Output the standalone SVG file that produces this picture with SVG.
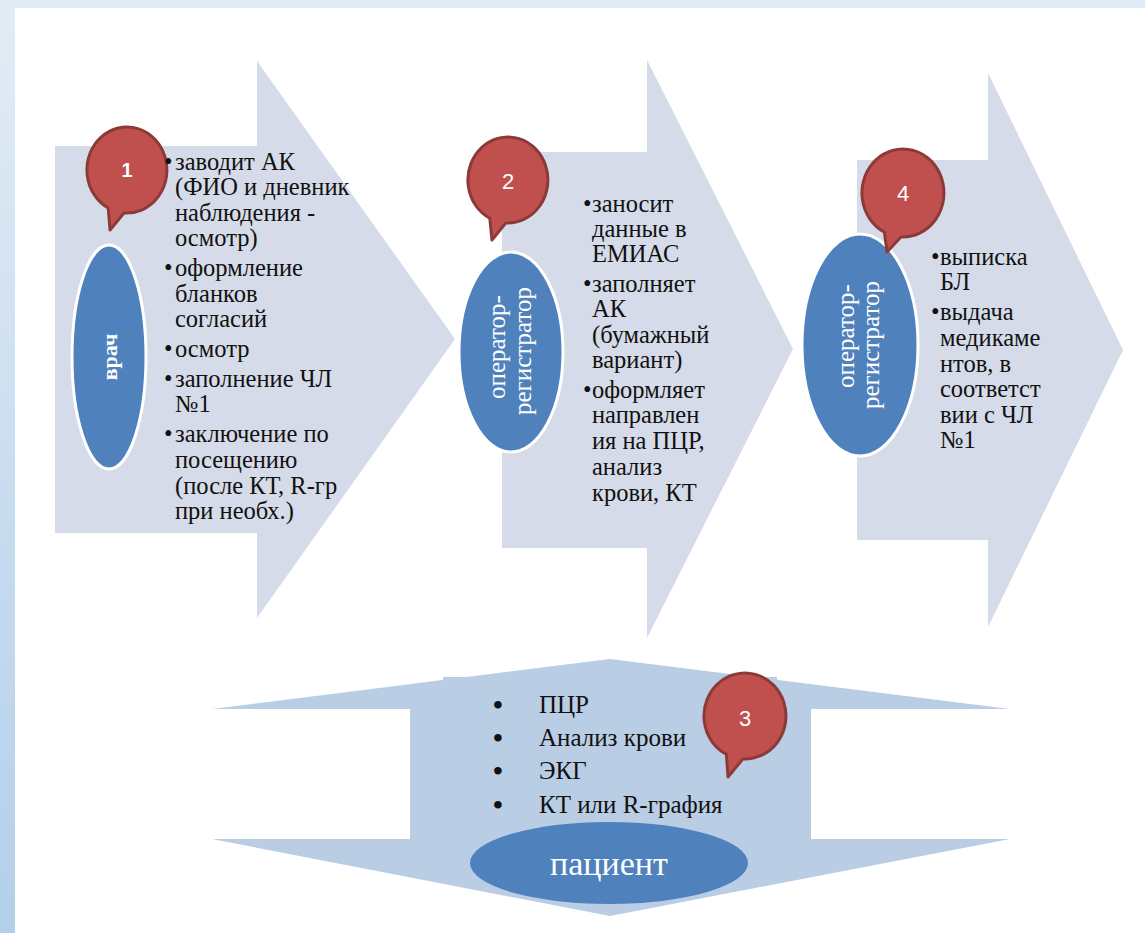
<svg xmlns="http://www.w3.org/2000/svg" width="1145" height="933" viewBox="0 0 1145 933">
  <defs>
    <linearGradient id="bg" x1="0" y1="0" x2="0" y2="1">
      <stop offset="0" stop-color="#e2ecf6"/>
      <stop offset="1" stop-color="#b3cfea"/>
    </linearGradient>
    <style>
      .arrow { fill: #d5dbe8; }
      .barrow { fill: #b9cde5; }
      .role { fill: #4f81bd; stroke: #ffffff; stroke-width: 3; }
      .callout { fill: #c0504d; stroke: #8c3a38; stroke-width: 3; stroke-linejoin: round; }
    </style>
  </defs>

  <rect x="0" y="0" width="1145" height="933" fill="url(#bg)"/>
  <rect x="15" y="8" width="1130" height="925" fill="#ffffff"/>

  <g id="connectors"></g>

  <g id="step1">
    <polygon class="arrow" points="55,146 257,146 257,61 455,339 257,618 257,533 55,533"/>
    <ellipse class="role" cx="109" cy="357" rx="37" ry="112"/>
    <text font-family="Liberation Serif, Times New Roman, serif" font-size="22" font-weight="bold" fill="#ffffff" text-anchor="middle" transform="translate(117,357) rotate(-90)">врач</text>
    <path class="callout" d="M124.2,212.9 A40,43 0 1 0 108.2,208 L110,230 Z"/>
    <text x="127" y="177" font-family="Liberation Sans, Arial, sans-serif" font-size="20" font-weight="bold" fill="#ffffff" text-anchor="middle">1</text>
    <g font-family="Liberation Serif, Times New Roman, serif" font-size="24.5" fill="#111111">
      <text x="164" y="170">•</text><text x="175" y="170">заводит АК</text>
      <text x="175" y="195">(ФИО и дневник</text>
      <text x="175" y="221">наблюдения -</text>
      <text x="175" y="246">осмотр)</text>
      <text x="164" y="276">•</text><text x="175" y="276">оформление</text>
      <text x="175" y="302">бланков</text>
      <text x="175" y="327">согласий</text>
      <text x="164" y="357">•</text><text x="175" y="357">осмотр</text>
      <text x="164" y="387">•</text><text x="175" y="387">заполнение ЧЛ</text>
      <text x="175" y="412">№1</text>
      <text x="164" y="442">•</text><text x="175" y="442">заключение по</text>
      <text x="175" y="468">посещению</text>
      <text x="175" y="494">(после КТ, R-гр</text>
      <text x="175" y="519">при необх.)</text>
    </g>
  </g>

  <g id="step2">
    <polygon class="arrow" points="502,152 647,152 647,60 793,349 647,638 647,548 502,548"/>
    <ellipse class="role" cx="511" cy="352" rx="52" ry="100"/>
    <g font-family="Liberation Serif, Times New Roman, serif" font-size="25" fill="#ffffff" text-anchor="middle">
      <text transform="translate(505,347) rotate(-90)">оператор-</text>
      <text transform="translate(531,351) rotate(-90)">регистратор</text>
    </g>
    <path class="callout" d="M505.9,222.9 A40,43 0 1 0 489.8,218.3 L492,240 Z"/>
    <text x="508" y="189" font-family="Liberation Sans, Arial, sans-serif" font-size="22" fill="#ffffff" text-anchor="middle">2</text>
    <g font-family="Liberation Serif, Times New Roman, serif" font-size="24.5" fill="#111111">
      <text x="583" y="212">•</text><text x="592" y="212">заносит</text>
      <text x="592" y="237">данные в</text>
      <text x="592" y="262">ЕМИАС</text>
      <text x="583" y="292">•</text><text x="592" y="292">заполняет</text>
      <text x="592" y="317">АК</text>
      <text x="592" y="343">(бумажный</text>
      <text x="592" y="368">вариант)</text>
      <text x="583" y="398">•</text><text x="592" y="398">оформляет</text>
      <text x="592" y="423">направлен</text>
      <text x="592" y="449">ия на ПЦР,</text>
      <text x="592" y="475">анализ</text>
      <text x="592" y="501">крови, КТ</text>
    </g>
  </g>

  <g id="step4">
    <polygon class="arrow" points="857,160 988,160 988,73 1123,350 988,627 988,540 857,540"/>
    <ellipse class="role" cx="860" cy="345" rx="58" ry="111"/>
    <g font-family="Liberation Serif, Times New Roman, serif" font-size="25" fill="#ffffff" text-anchor="middle">
      <text transform="translate(854,336) rotate(-90)">оператор-</text>
      <text transform="translate(879,345) rotate(-90)">регистратор</text>
    </g>
    <path class="callout" d="M900.9,236.9 A41,44 0 1 0 884.4,232.2 L887,252 Z"/>
    <text x="903" y="201" font-family="Liberation Sans, Arial, sans-serif" font-size="22" fill="#ffffff" text-anchor="middle">4</text>
    <g font-family="Liberation Serif, Times New Roman, serif" font-size="24.5" fill="#111111">
      <text x="931" y="265">•</text><text x="940" y="265">выписка</text>
      <text x="940" y="290">БЛ</text>
      <text x="931" y="320">•</text><text x="940" y="320">выдача</text>
      <text x="940" y="346">медикаме</text>
      <text x="940" y="372">нтов, в</text>
      <text x="940" y="397">соответст</text>
      <text x="940" y="423">вии с ЧЛ</text>
      <text x="940" y="448">№1</text>
    </g>
  </g>

  <g id="step3">
    <polygon class="barrow" points="610,659 1010,709 811,709 811,839 1010,839 610,916 212,839 410,839 410,709 212,709"/>
    <rect class="barrow" x="443" y="677" width="334" height="85"/>
    <g font-family="Liberation Serif, Times New Roman, serif" font-size="25" fill="#111111">
      <text x="493" y="714" font-size="28" font-weight="bold">•</text><text x="539" y="713">ПЦР</text>
      <text x="493" y="747" font-size="28" font-weight="bold">•</text><text x="539" y="746">Анализ крови</text>
      <text x="493" y="780" font-size="28" font-weight="bold">•</text><text x="539" y="779">ЭКГ</text>
      <text x="493" y="814" font-size="28" font-weight="bold">•</text><text x="539" y="813">КТ или R-графия</text>
    </g>
    <path class="callout" d="M742.9,758.9 A41,43 0 1 0 726.4,754.3 L728,777 Z"/>
    <text x="745" y="726" font-family="Liberation Sans, Arial, sans-serif" font-size="22" fill="#ffffff" text-anchor="middle">3</text>
  </g>

  <g id="patient">
    <ellipse cx="609" cy="863" rx="139" ry="41" fill="#4f81bd"/>
    <text x="609" y="875" font-family="Liberation Serif, Times New Roman, serif" font-size="34" fill="#ffffff" text-anchor="middle">пациент</text>
  </g>
</svg>
